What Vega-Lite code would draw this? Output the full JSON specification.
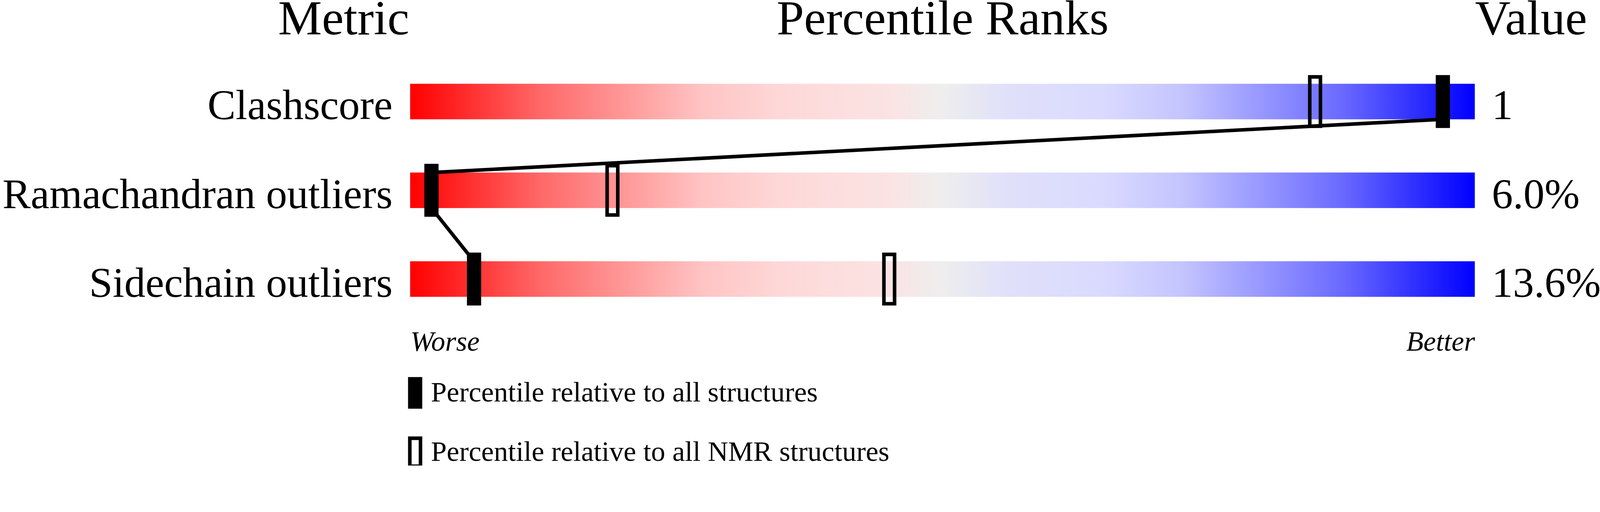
{
  "$schema": "https://vega.github.io/schema/vega-lite/v6.json",
  "width": 2725.5,
  "height": 681.8,
  "autosize": "none",
  "padding": {"left": 1050, "top": 146.4, "right": 320.9, "bottom": 363.6},
  "background": "white",
  "config": {
    "font": "Liberation Serif",
    "view": {"stroke": null},
    "axis": {"grid": false, "labelColor": "black", "titleColor": "black"}
  },
  "data": {
    "values": [
      {"metric": "Clashscore", "value": "1", "all": 97, "nmr": 85},
      {"metric": "Ramachandran outliers", "value": "6.0%", "all": 2, "nmr": 19},
      {"metric": "Sidechain outliers", "value": "13.6%", "all": 6, "nmr": 45}
    ]
  },
  "layer": [
    {
      "mark": {
        "type": "bar",
        "height": 90.9,
        "fill": {
          "gradient": "linear",
          "x1": 0, "x2": 1, "y1": 0, "y2": 0,
          "stops": [
            {"offset": 0, "color": "#ff0000"},
            {"offset": 0.125, "color": "#ff6a6a"},
            {"offset": 0.275, "color": "#ffc4c4"},
            {"offset": 0.35, "color": "#fed8d8"},
            {"offset": 0.45, "color": "#fbe3e3"},
            {"offset": 0.5, "color": "#eeeeee"},
            {"offset": 0.56, "color": "#e0e0fa"},
            {"offset": 0.65, "color": "#dadaff"},
            {"offset": 0.725, "color": "#c4c4ff"},
            {"offset": 0.875, "color": "#6a6aff"},
            {"offset": 1, "color": "#0000ff"}
          ]
        }
      },
      "encoding": {
        "x": {
          "datum": 0,
          "type": "quantitative",
          "scale": {"domain": [0, 100], "nice": false, "zero": false},
          "axis": {
            "orient": "bottom",
            "values": [0, 100],
            "labelExpr": "datum.value == 0 ? 'Worse' : 'Better'",
            "labelFontStyle": "italic",
            "labelFontSize": 72,
            "labelBaseline": "alphabetic",
            "labelPadding": 69.1,
            "labelLimit": 1000,
            "labelAlign": {"condition": {"test": "datum.value == 0", "value": "left"}, "value": "right"},
            "labelFlush": true,
            "labelOverlap": false,
            "ticks": false,
            "tickSize": 0,
            "domain": false,
            "title": null
          }
        },
        "x2": {"datum": 100},
        "y": {
          "field": "metric",
          "type": "nominal",
          "sort": null,
          "scale": {"paddingInner": 0, "paddingOuter": 0},
          "axis": {
            "orient": "left",
            "title": "Metric",
            "titleAngle": 0,
            "titleAlign": "right",
            "titleBaseline": "alphabetic",
            "titleX": -2.7,
            "titleY": -59.1,
            "titleFontSize": 126,
            "titleFontWeight": "normal",
            "labelFontSize": 108,
            "labelBaseline": "alphabetic",
            "labelOffset": 45.45,
            "labelPadding": 45.5,
            "labelLimit": 3000,
            "ticks": false,
            "tickSize": 0,
            "domain": false
          }
        }
      }
    },
    {
      "transform": [
        {"fold": ["all", "nmr"], "as": ["type", "pct"]},
        {"filter": "datum.type == 'nmr'"}
      ],
      "mark": {
        "type": "point",
        "shape": "M-0.2158,-1H0.2158V1H-0.2158Z",
        "size": 15977,
        "filled": true,
        "stroke": "black",
        "strokeWidth": 9.1,
        "opacity": 1
      },
      "encoding": {
        "x": {
          "field": "pct",
          "type": "quantitative",
          "axis": {
            "orient": "top",
            "labels": false,
            "ticks": false,
            "tickSize": 0,
            "domain": false,
            "title": "Percentile Ranks",
            "titleFontSize": 126,
            "titleFontWeight": "normal",
            "titleBaseline": "alphabetic",
            "titleY": -59.1
          }
        },
        "y": {"field": "metric", "type": "nominal", "sort": null, "axis": null},
        "fill": {
          "field": "type",
          "type": "nominal",
          "scale": {"domain": ["all", "nmr"], "range": ["black", "transparent"]},
          "legend": {
            "title": null,
            "orient": "none",
            "legendX": -27.7,
            "legendY": 819.1,
            "direction": "vertical",
            "symbolType": "M-0.38,-1H0.38V1H-0.38Z",
            "symbolSize": 5155,
            "symbolStrokeColor": "black",
            "symbolStrokeWidth": 9.1,
            "symbolOpacity": 1,
            "labelFontSize": 72.5,
            "labelFont": "Liberation Serif",
            "labelColor": "black",
            "labelLimit": 3000,
            "labelOffset": 0,
            "rowPadding": 43,
            "padding": 0,
            "labelExpr": "datum.value == 'all' ? 'Percentile relative to all structures' : 'Percentile relative to all NMR structures'"
          }
        }
      }
    },
    {
      "transform": [
        {"window": [
          {"op": "lead", "field": "all", "as": "next_all"},
          {"op": "lead", "field": "metric", "as": "next_metric"}
        ]},
        {"filter": "isValid(datum.next_metric)"}
      ],
      "mark": {"type": "rule", "stroke": "black", "strokeWidth": 9.1, "yOffset": 45.45, "y2Offset": -45.45},
      "encoding": {
        "x": {"field": "all", "type": "quantitative", "axis": null},
        "x2": {"field": "next_all"},
        "y": {"field": "metric", "type": "nominal", "sort": null, "axis": null},
        "y2": {"field": "next_metric"}
      }
    },
    {
      "transform": [
        {"fold": ["all", "nmr"], "as": ["type", "pct"]},
        {"filter": "datum.type == 'all'"}
      ],
      "mark": {
        "type": "point",
        "shape": "M-0.2158,-1H0.2158V1H-0.2158Z",
        "size": 15977,
        "filled": true,
        "stroke": "black",
        "strokeWidth": 9.1,
        "opacity": 1
      },
      "encoding": {
        "x": {"field": "pct", "type": "quantitative", "axis": null},
        "y": {"field": "metric", "type": "nominal", "sort": null, "axis": null},
        "fill": {
          "field": "type",
          "type": "nominal",
          "scale": {"domain": ["all", "nmr"], "range": ["black", "transparent"]},
          "legend": {
            "title": null,
            "orient": "none",
            "legendX": -27.7,
            "legendY": 819.1,
            "direction": "vertical",
            "symbolType": "M-0.38,-1H0.38V1H-0.38Z",
            "symbolSize": 5155,
            "symbolStrokeColor": "black",
            "symbolStrokeWidth": 9.1,
            "symbolOpacity": 1,
            "labelFontSize": 72.5,
            "labelFont": "Liberation Serif",
            "labelColor": "black",
            "labelLimit": 3000,
            "labelOffset": 0,
            "rowPadding": 43,
            "padding": 0,
            "labelExpr": "datum.value == 'all' ? 'Percentile relative to all structures' : 'Percentile relative to all NMR structures'"
          }
        }
      }
    },
    {
      "mark": {"type": "text", "align": "left", "baseline": "alphabetic", "dx": 43.6, "dy": 45.45, "fontSize": 108, "color": "black"},
      "encoding": {
        "x": {"datum": 100, "type": "quantitative", "axis": null},
        "y": {
          "field": "metric",
          "type": "nominal",
          "sort": null,
          "axis": {
            "orient": "right",
            "labels": false,
            "ticks": false,
            "tickSize": 0,
            "domain": false,
            "title": "Value",
            "titleAngle": 0,
            "titleAlign": "left",
            "titleBaseline": "alphabetic",
            "titleX": 0,
            "titleY": -59.1,
            "titleFontSize": 126,
            "titleFontWeight": "normal"
          }
        },
        "text": {"field": "value"}
      }
    }
  ]
}
